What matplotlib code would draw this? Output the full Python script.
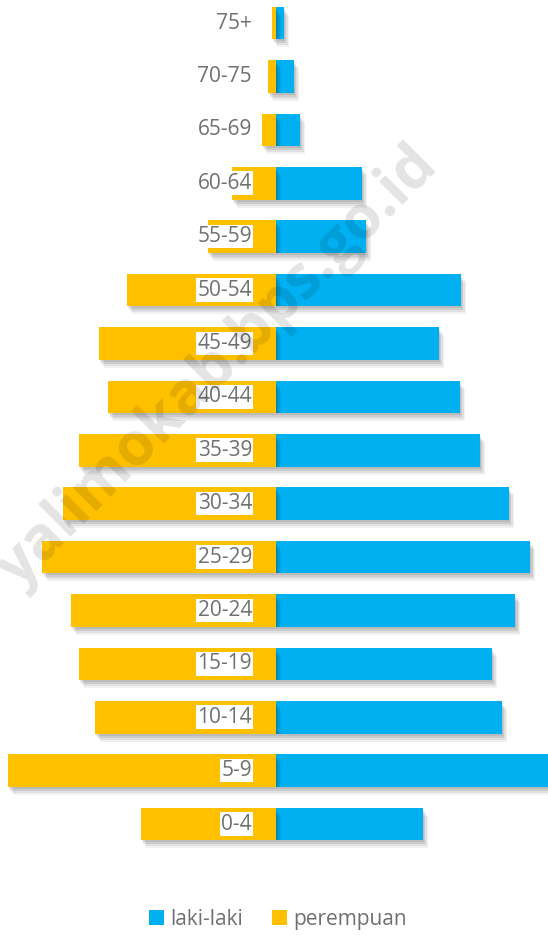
import matplotlib
matplotlib.use("Agg")
import matplotlib.pyplot as plt
import matplotlib.patheffects as pe
from matplotlib.patches import Patch

age_groups = ["0-4", "5-9", "10-14", "15-19", "20-24", "25-29", "30-34", "35-39",
              "40-44", "45-49", "50-54", "55-59", "60-64", "65-69", "70-75", "75+"]
laki_laki = [147, 274, 226, 216, 239, 254, 233, 204, 184, 163, 185, 90, 86, 24, 18, 8]
perempuan = [135, 268, 181, 197, 205, 234, 213, 197, 168, 177, 149, 68, 44, 14, 8, 4]

BLUE = "#00B0F0"
YELLOW = "#FFC000"
GREY = "#707070"

plt.rcParams['font.family'] = ['Open Sans', 'DejaVu Sans']

fig = plt.figure(figsize=(5.48, 9.35), dpi=100)
ax = fig.add_axes([0, 0, 1, 1])
ax.set_xlim(-276, 272)
ax.set_ylim(-2.078, 15.431)
ax.axis("off")

shadow = [pe.SimplePatchShadow(offset=(o, -o * 1.6), shadow_rgbFace="black", alpha=a)
          for o, a in [(3.6, 0.05), (2.7, 0.07), (1.8, 0.09), (0.9, 0.08)]] + [pe.Normal()]

y = list(range(len(age_groups)))
h = 0.61
ax.barh(y, laki_laki, height=h, color=BLUE, path_effects=shadow, zorder=2)
ax.barh(y, [-v for v in perempuan], height=h, color=YELLOW, path_effects=shadow, zorder=2)

for yi, lab in zip(y, age_groups):
    ax.text(-24, yi, lab, ha="right", va="center", fontsize=15, color=GREY, zorder=4,
            bbox=dict(boxstyle="square,pad=0.06", fc="white", ec="none"))

# watermark
ax.text(-58, 8.54, "yalimokab.bps.go.id", rotation=45, ha="center", va="center",
        fontsize=43, fontweight="bold", color="black", alpha=0.11, zorder=5,
        rotation_mode="anchor")

handles = [Patch(facecolor=BLUE, edgecolor="none", label="laki-laki"),
           Patch(facecolor=YELLOW, edgecolor="none", label="perempuan")]
fig.legend(handles=handles, loc="center", bbox_to_anchor=(0.507, 0.017), ncol=2,
           frameon=False, fontsize=15, labelcolor=GREY, handlelength=0.7,
           handleheight=0.7, handletextpad=0.3, columnspacing=1.4)

fig.savefig("out.png", dpi=100)
